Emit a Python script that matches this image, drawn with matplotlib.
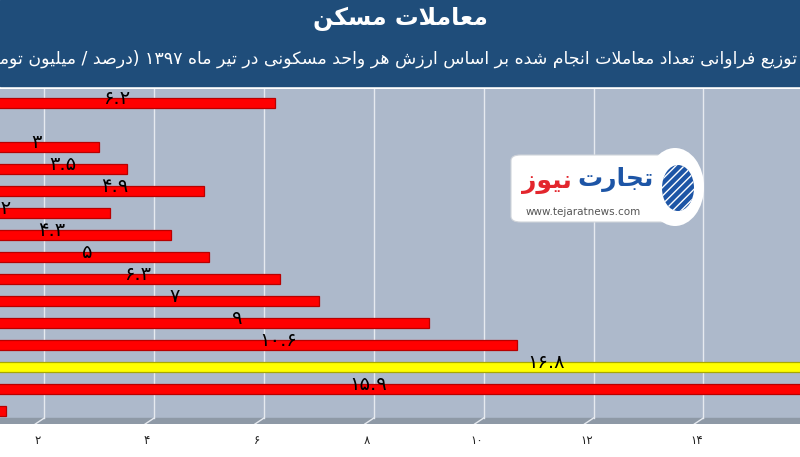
import re
import matplotlib
matplotlib.use("Agg")
import matplotlib.pyplot as plt
from matplotlib.patches import Rectangle, FancyBboxPatch, Circle, Ellipse

# داده‌ها (از بالا به پایین)
values = [6.2, 0.9, 3.0, 3.5, 4.9, 3.2, 4.3, 5.0, 6.3, 7.0, 9.0, 10.6, 16.8, 15.9, 1.3]
# برچسب میله‌هایی که در تصویر دیده نمی‌شوند خالی است
labels = ['۶.۲', '', '۳', '۳.۵', '۴.۹', '۳.۲', '۴.۳', '۵', '۶.۳', '۷', '۹', '۱۰.۶', '۱۶.۸', '۱۵.۹', '']
highlight = 12  # میله زرد
label_pos = [3.32, 0.5, 1.85, 2.34, 3.29, 1.16, 2.14, 2.79, 3.69, 4.38, 5.51, 6.25, 11.13, 7.89, 0.7]
xticks = [2, 4, 6, 8, 10, 12, 14]
xtick_labels = ['۲', '۴', '۶', '۸', '۱۰', '۱۲', '۱۴']

title = 'معاملات مسکن'
subtitle = 'توزیع فراوانی تعداد معاملات انجام شده بر اساس ارزش هر واحد مسکونی در تیر ماه ۱۳۹۷ (درصد / میلیون تومان)'

# شکل‌دهی حروف فارسی (matplotlib خودش حروف را به هم وصل نمی‌کند)
FORMS = {
    'ا': (0xFE8D, 0xFE8E), 'ب': (0xFE8F, 0xFE90, 0xFE91, 0xFE92),
    'ت': (0xFE95, 0xFE96, 0xFE97, 0xFE98), 'ج': (0xFE9D, 0xFE9E, 0xFE9F, 0xFEA0),
    'ح': (0xFEA1, 0xFEA2, 0xFEA3, 0xFEA4), 'د': (0xFEA9, 0xFEAA),
    'ر': (0xFEAD, 0xFEAE), 'ز': (0xFEAF, 0xFEB0),
    'س': (0xFEB1, 0xFEB2, 0xFEB3, 0xFEB4), 'ش': (0xFEB5, 0xFEB6, 0xFEB7, 0xFEB8),
    'ص': (0xFEB9, 0xFEBA, 0xFEBB, 0xFEBC), 'ع': (0xFEC9, 0xFECA, 0xFECB, 0xFECC),
    'ف': (0xFED1, 0xFED2, 0xFED3, 0xFED4), 'ل': (0xFEDD, 0xFEDE, 0xFEDF, 0xFEE0),
    'م': (0xFEE1, 0xFEE2, 0xFEE3, 0xFEE4), 'ن': (0xFEE5, 0xFEE6, 0xFEE7, 0xFEE8),
    'ه': (0xFEE9, 0xFEEA, 0xFEEB, 0xFEEC), 'و': (0xFEED, 0xFEEE),
    'ی': (0xFBFC, 0xFBFD, 0xFBFE, 0xFBFF), 'ک': (0xFB8E, 0xFB8F, 0xFB90, 0xFB91),
}


def shape(s):
    out, i = [], 0
    while i < len(s):
        c = s[i]
        if c not in FORMS:
            out.append(c)
            i += 1
            continue
        prev = s[i - 1] if i > 0 else ''
        joined = prev in FORMS and len(FORMS[prev]) == 4
        if c == 'ل' and i + 1 < len(s) and s[i + 1] == 'ا':
            out.append(chr(0xFEFC if joined else 0xFEFB))
            i += 2
            continue
        nxt = s[i + 1] if i + 1 < len(s) else ''
        f = FORMS[c]
        joins_next = len(f) == 4 and nxt in FORMS
        if joined and joins_next:
            g = f[3]
        elif joined:
            g = f[1]
        elif joins_next:
            g = f[2]
        else:
            g = f[0]
        out.append(chr(g))
        i += 1
    return ''.join(out)


def rtl(s):
    tokens = re.findall(r'[۰-۹]+|[^۰-۹]+', shape(s))
    out = []
    for t in reversed(tokens):
        if t[0] in '۰۱۲۳۴۵۶۷۸۹':
            out.append(t)
        else:
            out.append(t[::-1].translate(str.maketrans('()', ')(')))
    return ''.join(out)


plt.rcParams['font.family'] = ['DejaVu Sans']

W, H = 800, 457
fig = plt.figure(figsize=(8, 4.57), dpi=100)


def fx(x):
    return x / W


def fy(y):
    return 1 - y / H


# سربرگ
fig.patches.append(Rectangle((0, fy(86)), 1, 86 / H, transform=fig.transFigure,
                             color='#1f4d7a', zorder=0))
fig.text(0.5, fy(19), rtl(title), color='white', fontsize=17, fontweight='bold',
         ha='center', va='center')
fig.text(fx(797), fy(59), rtl(subtitle), color='white', fontsize=12.5,
         ha='right', va='center')

# نمودار
ax = fig.add_axes([0, fy(424), 1, (424 - 89) / H])
ax.set_facecolor('#adb9cb')
n = len(values)
ypos = list(range(n))
ax.set_xlim(1.193, 1.193 + W / 54.92)
ax.set_ylim((424 - 103) / 22, (89 - 103) / 22)

floor_top = (418 - 103) / 22
floor_bot = (424 - 103) / 22
ax.axhspan(floor_top, floor_bot, color='#8e99a6', zorder=1)
for v in xticks:
    ax.plot([v, v], [(89 - 103) / 22, floor_top], color='#e6eaf0', lw=1, zorder=1)
    ax.plot([v, v - 9 / 54.92], [floor_top, floor_bot], color='#e6eaf0', lw=1, zorder=1)

colors = ['#ffff00' if i == highlight else '#ff0000' for i in range(n)]
edges = ['#a8a800' if i == highlight else '#b80000' for i in range(n)]
ax.barh(ypos, values, height=0.48, color=colors, edgecolor=edges, linewidth=0.9, zorder=2)

for i in range(n):
    if labels[i]:
        ax.text(label_pos[i], ypos[i] - 0.2, labels[i], fontsize=14, color='black',
                ha='center', va='center', zorder=3)

ax.set_xticks([])
ax.set_yticks([])
for s in ax.spines.values():
    s.set_visible(False)

for v, t in zip(xticks, xtick_labels):
    px = (v - 1.193) * 54.92 - 7
    fig.text(fx(px), fy(440), t, fontsize=8.5, color='#222222', ha='center', va='center')

# لوگو
fig.patches.append(FancyBboxPatch((fx(511), fy(222)), fx(160), 67 / H,
                                  boxstyle='round,pad=0,rounding_size=0.012',
                                  transform=fig.transFigure, facecolor='white',
                                  edgecolor='#d0d4da', lw=0.8, zorder=4))
fig.patches.append(Ellipse((fx(675), fy(187)), 58 / W, 78 / H, transform=fig.transFigure,
                           facecolor='white', edgecolor='none', zorder=4))
fig.patches.append(Ellipse((fx(678), fy(188)), 32 / W, 46 / H, transform=fig.transFigure,
                           facecolor='#1d55a6', edgecolor='white', hatch='////',
                           lw=0, zorder=5))
fig.text(fx(616), fy(179), rtl('تجارت'), color='#1d55a6', fontsize=18,
         fontweight='bold', ha='center', va='center', zorder=6)
fig.text(fx(547), fy(182), rtl('نیوز'), color='#e3262d', fontsize=18,
         fontweight='bold', ha='center', va='center', zorder=6)
fig.text(fx(583), fy(212), 'www.tejaratnews.com', color='#555555', fontsize=7.5,
         ha='center', va='center', zorder=6)

fig.savefig('out.png', dpi=100)
